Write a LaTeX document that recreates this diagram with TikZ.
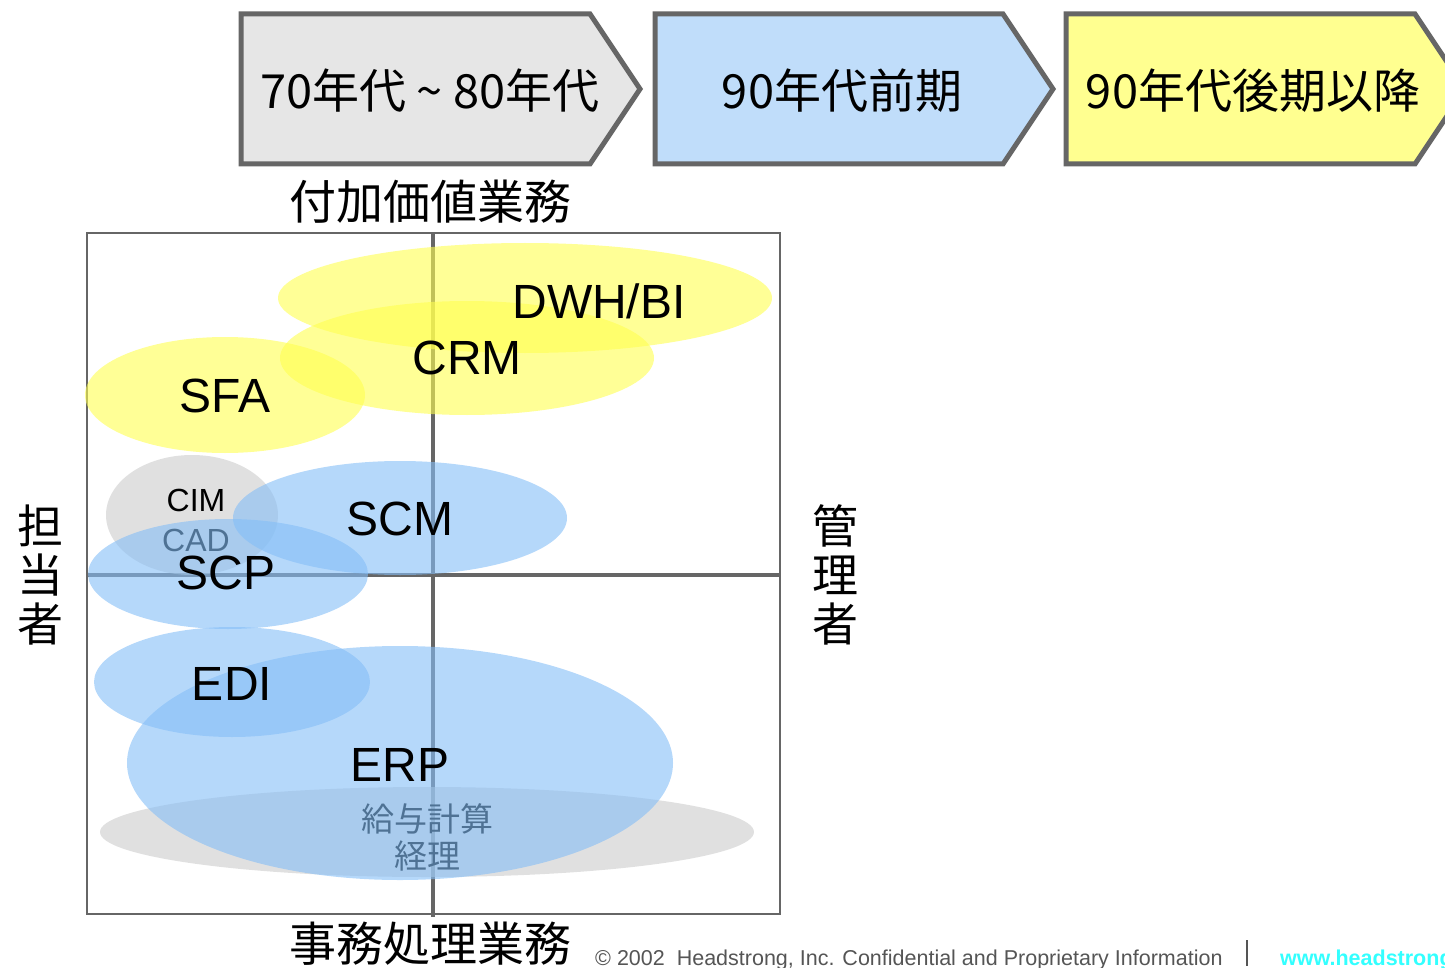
\documentclass[tikz,border=0pt]{standalone}
\usepackage{fontspec}
\setmainfont{Liberation Sans}
\newfontfamily\cjk{Noto Sans CJK JP}
\definecolor{frame}{HTML}{666666}
\definecolor{arrgray}{HTML}{E6E6E6}
\definecolor{arrblue}{HTML}{C0DDFA}
\definecolor{arryellow}{HTML}{FFFF90}
\definecolor{elyellow}{HTML}{FFFF50}
\definecolor{elblue}{HTML}{84BEF7}
\definecolor{elgray}{HTML}{CCCCCC}
\definecolor{foot}{HTML}{555555}
\definecolor{webcyan}{HTML}{33FFFF}
\tikzset{
  arrowbox/.style={draw=frame, line width=5pt, line join=miter},
  ellfill/.style={fill opacity=0.6},
  biglbl/.style={font=\fontsize{48}{48}\selectfont, inner sep=0pt, anchor=center},
  smalllbl/.style={font=\fontsize{32}{32}\selectfont, inner sep=0pt, anchor=center},
  headtxt/.style={font=\cjk\fontsize{47}{47}\selectfont, inner sep=0pt, anchor=center},
  vtxt/.style={font=\cjk\fontsize{46}{49}\selectfont, inner sep=0pt, anchor=center, align=center},
  smallcjk/.style={font=\cjk\fontsize{33}{37}\selectfont, inner sep=0pt, anchor=center, align=center},
}
\begin{document}
\begin{tikzpicture}[x=1pt,y=-1pt]
\useasboundingbox (0,0) rectangle (1445,968);
% header arrows
\draw[arrowbox, fill=arrgray] (241,14) -- (590,14) -- (640,89) -- (590,164) -- (241,164) -- cycle;
\draw[arrowbox, fill=arrblue] (655,14) -- (1003,14) -- (1053,89) -- (1003,164) -- (655,164) -- cycle;
\draw[arrowbox, fill=arryellow] (1066,14) -- (1415,14) -- (1465,89) -- (1415,164) -- (1066,164) -- cycle;
\node[headtxt] (h1) at (430,91) {70年代 \textasciitilde\ 80年代};
\node[headtxt] (h2) at (842,91) {90年代前期};
\node[headtxt] (h3) at (1253,91) {90年代後期以降};
% axes titles
\node[headtxt] (top) at (430,202) {付加価値業務};
\node[headtxt] (bottom) at (430,944) {事務処理業務};
\node[vtxt] (left) at (40,575) {担\\当\\者};
\node[vtxt] (right) at (835,575) {管\\理\\者};
% box
\draw[frame, line width=2pt] (87,233) rectangle (780,914);
\draw[frame, line width=3.5pt] (433,233) -- (433,917);
\draw[frame, line width=3.5pt] (87,575) -- (780,575);
% bottom gray + hidden texts
\fill[elgray, ellfill] (427,832) ellipse [x radius=327, y radius=45];
\node[smallcjk] (kyuyo) at (427,837) {給与計算\\経理};
\fill[elblue, ellfill] (400,763) ellipse [x radius=273, y radius=117];
\fill[elblue, ellfill] (232,682) ellipse [x radius=138, y radius=55];
% CIM / CAD / SCP
\fill[elgray, ellfill] (192,515) ellipse [x radius=86, y radius=60];
\node[smalllbl] (cad) at (196,540) {CAD};
\fill[elblue, ellfill] (228,574) ellipse [x radius=140, y radius=55];
\fill[elblue, ellfill] (400,518) ellipse [x radius=167, y radius=57];
% yellow
\fill[elyellow, ellfill] (225,395) ellipse [x radius=140, y radius=58];
\fill[elyellow, ellfill] (467,358) ellipse [x radius=187, y radius=57];
\fill[elyellow, ellfill] (525,298) ellipse [x radius=247, y radius=55];
% labels
\node[biglbl] (dwh) at (599,301) {DWH/BI};
\node[biglbl] (crm) at (467,358) {CRM};
\node[biglbl] (sfa) at (225,396) {SFA};
\node[smalllbl] (cim) at (196,500) {CIM};
\node[biglbl] (scm) at (400,519) {SCM};
\node[biglbl] (scp) at (226,573) {SCP};
\node[biglbl] (edi) at (232,684) {EDI};
\node[biglbl] (erp) at (400,765) {ERP};
% footer
\node[font=\fontsize{21.5}{21.5}\selectfont, text=foot, anchor=base west, inner sep=0pt] (copy) at (595,965) {\textcopyright\ 2002\ \ Headstrong, Inc. Confidential and Proprietary Information};
\coordinate (sepT) at (1247,940);
\coordinate (sepB) at (1247,966);
\draw[foot, line width=1.5pt] (sepT) -- (sepB);
\node[font=\bfseries\fontsize{21.5}{21.5}\selectfont, text=webcyan, anchor=base west, inner sep=0pt] (web) at (1280,965) {www.headstrong.com};
\end{tikzpicture}
\end{document}
